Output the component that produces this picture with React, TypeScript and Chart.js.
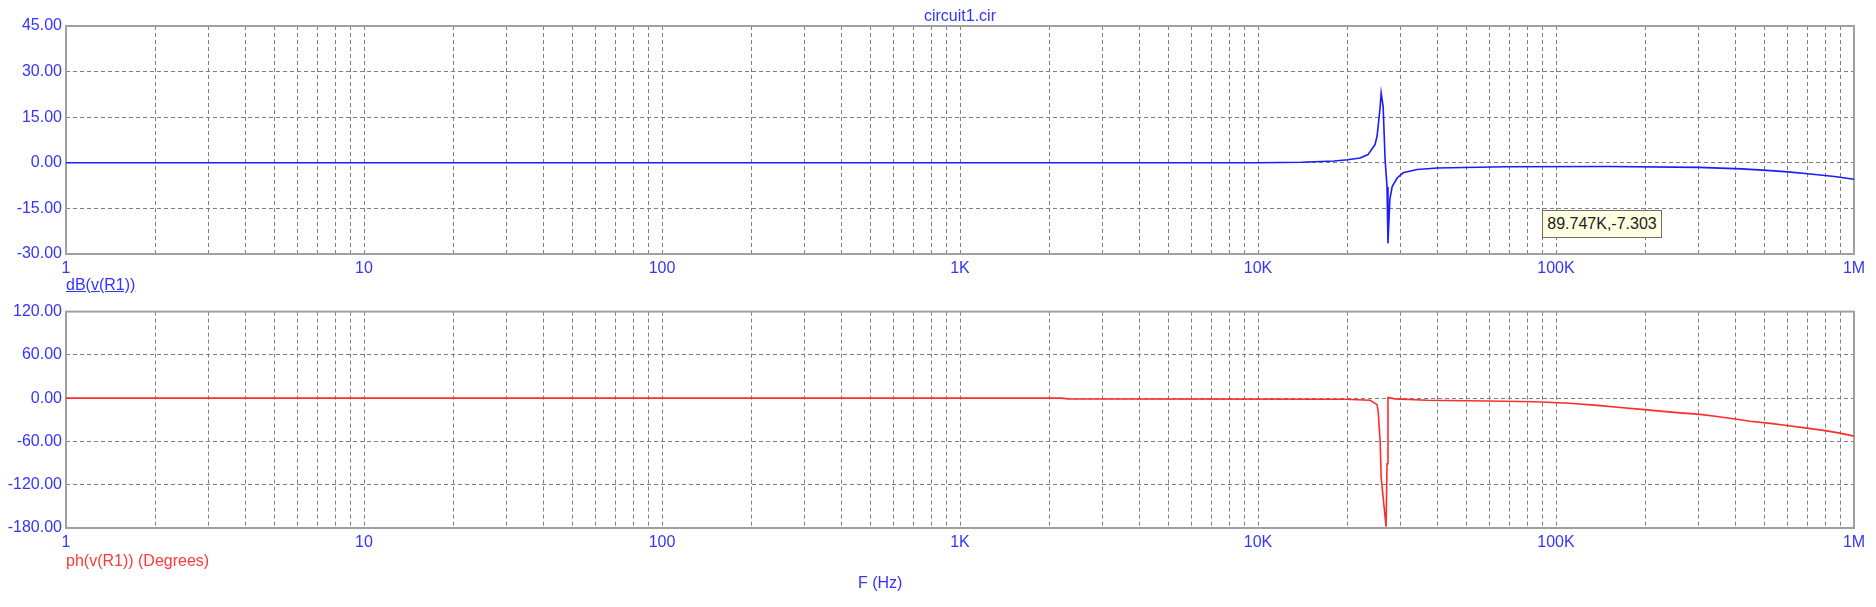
import React, { useEffect, useRef } from "react";
import { Chart, registerables } from "chart.js";

Chart.register(...registerables);

// ---- data ----
const xDecades = [1, 10, 100, 1000, 10000, 100000, 1000000];
const xTickLabels = ["1", "10", "100", "1K", "10K", "100K", "1M"];
const xMinorMultipliers = [2, 3, 4, 5, 6, 7, 8, 9];

const magFreq = [
  1, 10000, 14000, 18000, 20000, 22000, 23400, 24700, 25100, 25300, 25700, 25900,
  26300, 26700, 27100, 27300, 27700, 28200, 29300, 30700, 34200, 40000, 68000,
  150000, 300000, 420000, 510000, 600000, 700000, 860000, 1000000,
];
const magDb = [
  0, 0, 0.2, 0.6, 1.0, 1.6, 2.7, 6, 8.8, 12, 18.5, 23, 18.5, 1, -8, -26.5, -12,
  -7.8, -5, -3.3, -2.2, -1.7, -1.3, -1.2, -1.5, -2.0, -2.5, -3.0, -3.6, -4.5, -5.4,
];

const phFreq = [
  1, 2200, 2300, 19600, 23800, 25100, 25300, 25700, 25900, 26500, 26900, 27100,
  27300, 28800, 37000, 59000, 85000, 111000, 138000, 164000, 194000, 224000,
  255000, 304000, 347000, 399000, 448000, 523000, 596000, 695000, 800000, 897000,
  1000000,
];
const phDeg = [
  0, 0, -1, -1.5, -3, -9, -18, -60, -110, -151, -178, -91, 1, -1, -3, -4, -5, -7,
  -10, -13, -15.5, -18, -20, -22.5, -25.5, -29, -32, -35, -38, -41.5, -45, -48.5,
  -52.6,
];

const magTicks = { min: -30, max: 45, step: 15 };
const phTicks = { min: -180, max: 120, step: 60 };

const titleText = "circuit1.cir";
const magLabel = "dB(v(R1))";
const phLabel = "ph(v(R1)) (Degrees)";
const xLabel = "F (Hz)";
const cursorText = "89.747K,-7.303";

// ---- style ----
const FONT = "'Liberation Sans', Arial, sans-serif";
const BLUE_TEXT = "#3434ff";
const RED_TEXT = "#ff3838";
const GRID = "#7e7e7e";
const BORDER = "#a0a0a0";

const xGridValues: number[] = (() => {
  const out: number[] = [];
  for (let i = 0; i < xDecades.length - 1; i++) {
    out.push(xDecades[i]);
    for (const m of xMinorMultipliers) out.push(m * xDecades[i]);
  }
  out.push(xDecades[xDecades.length - 1]);
  return out;
})();

const borderPlugin = {
  id: "plotBorder",
  beforeDatasetsDraw(chart: any) {
    const { ctx, chartArea } = chart;
    ctx.save();
    ctx.strokeStyle = BORDER;
    ctx.lineWidth = 2;
    ctx.setLineDash([]);
    ctx.strokeRect(
      chartArea.left,
      chartArea.top,
      chartArea.right - chartArea.left,
      chartArea.bottom - chartArea.top
    );
    ctx.restore();
  },
};

function makeConfig(
  freqs: number[],
  vals: number[],
  color: string,
  yt: { min: number; max: number; step: number },
  padTop: number,
  xAxisHeight: number
): any {
  return {
    type: "line",
    data: {
      datasets: [
        {
          data: freqs.map((f, i) => ({ x: f, y: vals[i] })),
          borderColor: color,
          borderWidth: 1.6,
          pointRadius: 0,
          tension: 0,
          fill: false,
        },
      ],
    },
    options: {
      animation: false,
      responsive: false,
      devicePixelRatio: 1,
      layout: { padding: { top: padTop, left: 0, right: 22, bottom: 0 } },
      plugins: {
        legend: { display: false },
        tooltip: { enabled: false },
        title: { display: false },
      },
      events: [],
      scales: {
        x: {
          type: "logarithmic",
          min: 1,
          max: 1000000,
          afterBuildTicks(scale: any) {
            scale.ticks = xGridValues.map((v) => ({ value: v }));
          },
          afterFit(scale: any) {
            scale.height = xAxisHeight;
          },
          grid: { color: GRID, lineWidth: 1, drawTicks: false },
          border: { display: false, dash: [4, 3] },
          ticks: {
            autoSkip: false,
            maxRotation: 0,
            minRotation: 0,
            padding: 5,
            color: BLUE_TEXT,
            font: { family: FONT, size: 16 },
            callback(value: any) {
              const i = xDecades.findIndex(
                (d) => Math.abs(d - Number(value)) < d * 1e-6
              );
              return i >= 0 ? xTickLabels[i] : "";
            },
          },
        },
        y: {
          type: "linear",
          min: yt.min,
          max: yt.max,
          afterFit(scale: any) {
            scale.width = 66;
          },
          grid: { color: GRID, lineWidth: 1, drawTicks: false },
          border: { display: false, dash: [4, 3] },
          ticks: {
            stepSize: yt.step,
            padding: 4,
            color: BLUE_TEXT,
            font: { family: FONT, size: 16 },
            callback(value: any) {
              return Number(value).toFixed(2);
            },
          },
        },
      },
    },
    plugins: [borderPlugin],
  };
}

const textBase: React.CSSProperties = {
  position: "absolute",
  fontFamily: FONT,
  fontSize: 16,
  lineHeight: "16px",
  whiteSpace: "nowrap",
};

export default function App() {
  const magRef = useRef<HTMLCanvasElement>(null);
  const phRef = useRef<HTMLCanvasElement>(null);

  useEffect(() => {
    const c1 = new Chart(
      magRef.current as HTMLCanvasElement,
      makeConfig(magFreq, magDb, "#1c1cff", magTicks, 26, 46)
    );
    const c2 = new Chart(
      phRef.current as HTMLCanvasElement,
      makeConfig(phFreq, phDeg, "#ff2c2c", phTicks, 11, 79)
    );
    return () => {
      c1.destroy();
      c2.destroy();
    };
  }, []);

  return (
    <div
      style={{
        position: "fixed",
        left: 0,
        top: 0,
        width: 1876,
        height: 607,
        background: "#ffffff",
        overflow: "hidden",
      }}
    >
      <canvas
        ref={magRef}
        width={1876}
        height={300}
        style={{ position: "absolute", left: 0, top: 0, width: 1876, height: 300 }}
      />
      <canvas
        ref={phRef}
        width={1876}
        height={309}
        style={{ position: "absolute", left: 0, top: 298, width: 1876, height: 309 }}
      />
      <div style={{ ...textBase, left: 66, width: 1788, top: 8, textAlign: "center", color: BLUE_TEXT }}>
        {titleText}
      </div>
      <div style={{ ...textBase, left: 66, top: 277, color: BLUE_TEXT, textDecoration: "underline" }}>
        {magLabel}
      </div>
      <div style={{ ...textBase, left: 66, top: 553, color: RED_TEXT }}>{phLabel}</div>
      <div style={{ ...textBase, left: 858, top: 575, color: BLUE_TEXT }}>{xLabel}</div>
      <div
        style={{
          ...textBase,
          left: 1542,
          top: 210,
          width: 118,
          height: 26,
          lineHeight: "26px",
          textAlign: "center",
          background: "#ffffe1",
          border: "1px solid #6e6e6e",
          color: "#202020",
        }}
      >
        {cursorText}
      </div>
    </div>
  );
}
